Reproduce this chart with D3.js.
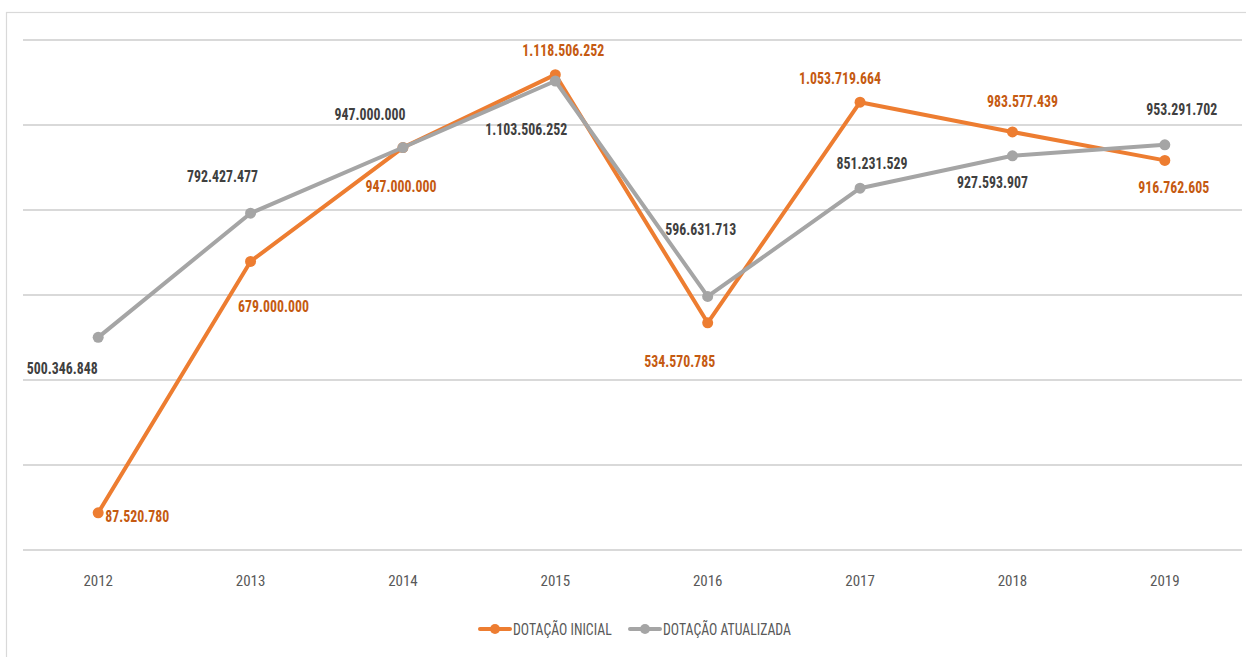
<!DOCTYPE html>
<html><head><meta charset="utf-8">
<script src="https://cdn.jsdelivr.net/npm/d3@7"></script>
<style>
body{margin:0;background:#fff;}
text{font-family:"Liberation Sans Narrow","Roboto Condensed","DejaVu Sans Condensed",sans-serif;}
</style></head>
<body>
<svg id="c" width="1246" height="657"></svg>
<script>
const years = ["2012","2013","2014","2015","2016","2017","2018","2019"];
const inicial = [87520780, 679000000, 947000000, 1118506252, 534570785, 1053719664, 983577439, 916762605];
const atualizada = [500346848, 792427477, 947000000, 1103506252, 596631713, 851231529, 927593907, 953291702];
const yTicks = [0, 200000000, 400000000, 600000000, 800000000, 1000000000, 1200000000];
const seriesNames = ["DOTAÇÃO INICIAL", "DOTAÇÃO ATUALIZADA"];

// label layout offsets (dx, dy of label centre relative to point)
const offInicial = [[39,3],[23,45],[-2,39],[8,-25],[-28,38],[-20,-24],[10,-31],[9,27]];
const offAtual = [[-36,31],[-28,-37],[-33,-33],[-29,48],[-7,-67],[12,-25],[-20,26],[17,-36]];

const svg = d3.select("#c");
svg.append("rect").attr("x",6.5).attr("y",12.5).attr("width",1260).attr("height",660)
  .attr("fill","#fff").attr("stroke","#d9d9d9").attr("stroke-width",1.2);

const x = d3.scaleBand().domain(years).range([22,1241]).padding(0);
const cx = d => x(d) + x.bandwidth()/2;
const y = d3.scaleLinear().domain([0,1200000000]).range([550,40]);

// gridlines
svg.append("g").selectAll("line").data(yTicks).join("line")
  .attr("x1",23).attr("x2",1242).attr("y1",d=>y(d)).attr("y2",d=>y(d))
  .attr("stroke","#d9d9d9").attr("stroke-width",2);

// x axis labels
const xAxis = d3.axisBottom(x).tickSize(0).tickPadding(0);
const gx = svg.append("g").attr("transform","translate(0,572)").call(xAxis);
gx.select(".domain").remove();
gx.selectAll("text").attr("font-size",15).attr("fill","#595959").attr("dy","0.9em");

const fmt = v => d3.format(",")(v).replace(/,/g,".");
const line = d3.line().x((d,i)=>cx(years[i])).y(d=>y(d));

const series = [
  {vals:inicial, color:"#ED7D31", lab:"#C55A11", off:offInicial},
  {vals:atualizada, color:"#A5A5A5", lab:"#404040", off:offAtual}
];
series.forEach(s=>{
  svg.append("path").datum(s.vals).attr("d",line).attr("fill","none")
    .attr("stroke",s.color).attr("stroke-width",4).attr("stroke-linejoin","round");
  svg.append("g").selectAll("circle").data(s.vals).join("circle")
    .attr("cx",(d,i)=>cx(years[i])).attr("cy",d=>y(d)).attr("r",5.5).attr("fill",s.color);
});
series.forEach(s=>{
  svg.append("g").selectAll("text").data(s.vals).join("text")
    .attr("transform",(d,i)=>`translate(${cx(years[i])+s.off[i][0]},${y(d)+s.off[i][1]}) scale(0.84,1)`)
    .attr("text-anchor","middle").attr("dy","0.36em")
    .attr("font-size",16.5).attr("font-weight","bold").attr("fill",s.lab)
    .text(d=>fmt(d));
});

// legend
const leg = [{x:480, name:seriesNames[0], color:"#ED7D31"},{x:630, name:seriesNames[1], color:"#A5A5A5"}];
leg.forEach(l=>{
  const g = svg.append("g").attr("transform",`translate(${l.x},629)`);
  g.append("line").attr("x1",0).attr("x2",30).attr("stroke",l.color).attr("stroke-width",4).attr("stroke-linecap","round");
  g.append("circle").attr("cx",15).attr("r",5).attr("fill",l.color);
  g.append("text").attr("transform","translate(33,0) scale(0.86,1)").attr("dy","0.36em")
    .attr("font-size",16).attr("fill","#595959").text(l.name);
});
</script>
</body></html>
